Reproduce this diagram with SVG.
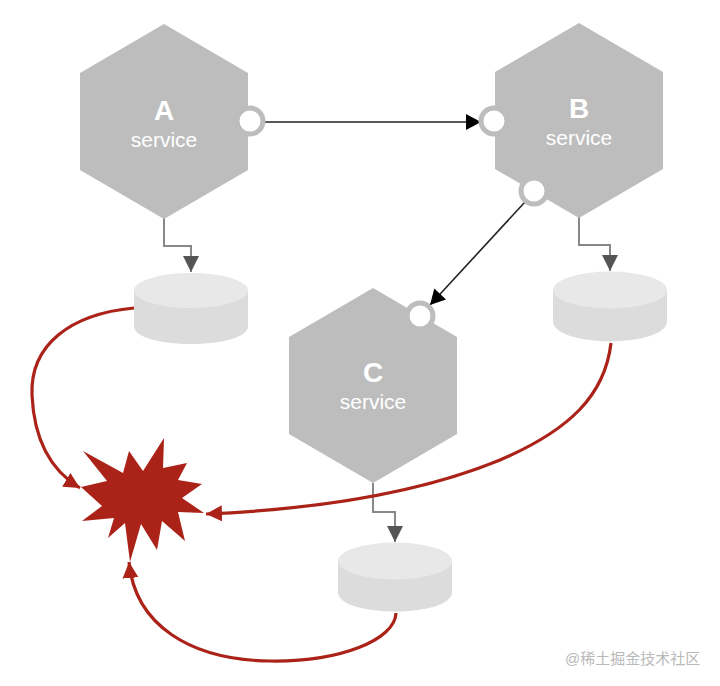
<svg xmlns="http://www.w3.org/2000/svg" width="720" height="686" viewBox="0 0 720 686">
<style>
.hex{fill:#bdbdbd}
.port{fill:#fff;stroke:#bdbdbd;stroke-width:5}
.title{font:bold 28px "Liberation Sans",Arial,sans-serif;fill:#fff;text-anchor:middle}
.sub{font:21px "Liberation Sans",Arial,sans-serif;fill:#fff;text-anchor:middle}
.top{fill:#e8e8e8}
.side{fill:#dcdcdc}
.call{fill:none;stroke:#222;stroke-width:1.6}
.db{fill:none;stroke:#888;stroke-width:2}
.red{fill:none;stroke:#ab2318;stroke-width:3.2}
</style>
<defs>
<marker id="mb" markerUnits="userSpaceOnUse" markerWidth="18" markerHeight="18" refX="16" refY="9" orient="auto"><path d="M1 1L16 9L1 17Z" fill="#000"/></marker>
<marker id="mg" markerUnits="userSpaceOnUse" markerWidth="18" markerHeight="18" refX="16" refY="9" orient="auto"><path d="M0 1L16 9L0 17Z" fill="#555"/></marker>
<marker id="mr" markerUnits="userSpaceOnUse" markerWidth="18" markerHeight="18" refX="16" refY="9" orient="auto"><path d="M0 1L16 9L0 17Z" fill="#ab2318"/></marker>
</defs>
<rect width="720" height="686" fill="#fff"/>
<g id="db-a"><path class="side" d="M134 290V326C134 350 248 350 248 326V290Z"/><ellipse class="top" cx="191" cy="290.5" rx="57" ry="17.5"/></g>
<g id="db-b"><path class="side" d="M553 290V321C553 348 667 348 667 321V290Z"/><ellipse class="top" cx="610" cy="290" rx="57" ry="18.5"/></g>
<g id="db-c"><path class="side" d="M338 561V592C338 618 452 618 452 592V561Z"/><ellipse class="top" cx="395" cy="561" rx="57" ry="18.5"/></g>
<g id="connectors">
<path class="call" d="M262 122H481" marker-end="url(#mb)"/>
<path class="call" d="M525 202L430 305" marker-end="url(#mb)"/>
<path class="db" d="M164 218V246H191V272" marker-end="url(#mg)"/>
<path class="db" d="M579 217V245H610V271" marker-end="url(#mg)"/>
<path class="db" d="M373 483V512H395V542" marker-end="url(#mg)"/>
<path class="red" d="M134 308C70 314 30 345 32 395C34 440 50 470 80 488" marker-end="url(#mr)"/>
<path class="red" d="M611 343C605 395 570 430 500 460C410 497 300 510 206 514" marker-end="url(#mr)"/>
<path class="red" d="M396 613C395 640 340 662 270 661C190 660 135 625 129 562" marker-end="url(#mr)"/>
</g>
<g id="service-a"><path class="hex" d="M164 24L248 73V170L164 219L80 170V73Z"/><circle class="port" cx="250" cy="121" r="13"/><text class="title" x="164" y="120">A</text><text class="sub" x="164" y="147">service</text></g>
<g id="service-b"><path class="hex" d="M579 23L663 72V169L579 218L495 169V72Z"/><circle class="port" cx="494" cy="121" r="13"/><circle class="port" cx="534" cy="191" r="13"/><text class="title" x="579" y="118">B</text><text class="sub" x="579" y="145">service</text></g>
<g id="service-c"><path class="hex" d="M373 288L457 337V434L373 483L289 434V337Z"/><circle class="port" cx="420" cy="316" r="13"/><text class="title" x="373" y="382">C</text><text class="sub" x="373" y="409">service</text></g>
<g id="explosion"><path fill="#ab2318" d="M83 451L123 473L129 451L143 471L164 438L163 468L187 463L178 480L202 484L182 498L204 513L178 512L185 541L162 521L157 550L141 524L130 562L125 523L108 538L114 518L82 521L102 506L81 487L107 481Z"/></g>
<text x="565" y="664" font-family="'Liberation Sans','Noto Sans CJK SC',sans-serif" font-size="15" fill="#b9b9b9">@稀土掘金技术社区</text>
</svg>
